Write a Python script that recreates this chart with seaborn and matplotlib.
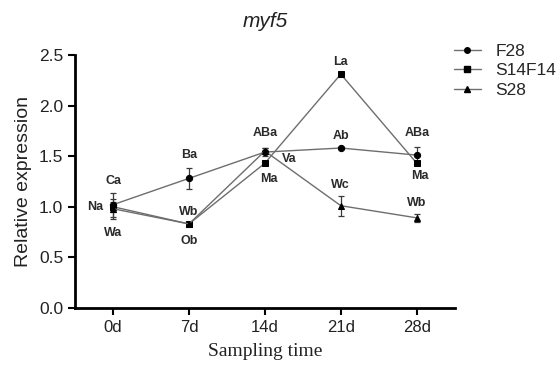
import numpy as np
import pandas as pd
import matplotlib
matplotlib.use("Agg")
import matplotlib.pyplot as plt
from matplotlib.lines import Line2D
import seaborn as sns

# ---- data ----
days = ["0d", "7d", "14d", "21d", "28d"]
series_names = ["F28", "S14F14", "S28"]
f28 = [1.02, 1.28, 1.54, 1.58, 1.51]
f28_err = [0.12, 0.10, 0.04, 0.01, 0.08]
s14f14 = [1.00, 0.83, 1.43, 2.31, 1.43]
s14f14_err = [0.05, 0.01, 0.01, 0.01, 0.01]
s28 = [0.98, 0.83, 1.55, 1.01, 0.89]
s28_err = [0.10, 0.01, 0.03, 0.10, 0.04]

labels_text = ["Ca", "Na", "Wa", "Ba", "Wb", "Ob", "ABa", "Ma", "Va",
               "Ab", "La", "Wc", "ABa", "Ma", "Wb"]
labels_x = [0, -0.24, 0, 1, 1, 1, 2, 2.05, 2.32, 3, 3, 3, 4, 4.04, 4]
labels_y = [1.25, 1.00, 0.74, 1.51, 0.95, 0.66, 1.73, 1.27, 1.47,
            1.70, 2.43, 1.21, 1.73, 1.30, 1.04]

values = [f28, s14f14, s28]
errors = [f28_err, s14f14_err, s28_err]
markers = {"F28": "o", "S14F14": "s", "S28": "^"}

rows = []
for name, vals in zip(series_names, values):
    for i, v in enumerate(vals):
        rows.append({"pos": i, "day": days[i], "series": name, "value": v})
df = pd.DataFrame(rows)

# ---- style ----
sns.set_theme(style="ticks")
plt.rcParams["font.family"] = ["Liberation Sans", "DejaVu Sans"]

fig = plt.figure(figsize=(5.6, 3.71), dpi=100)
ax = fig.add_axes([0.134, 0.170, 0.678, 0.682])

line_color = "#6e6e6e"
for name, vals, errs in zip(series_names, values, errors):
    ax.errorbar(range(len(days)), vals, yerr=errs, fmt="none",
                ecolor="#3a3a3a", elinewidth=0.9, capsize=2.5, capthick=0.9,
                zorder=2)

sns.lineplot(data=df, x="pos", y="value", hue="series", style="series",
             markers=markers, dashes=False, palette=[line_color] * 3,
             markersize=4.5, linewidth=1.0, markerfacecolor="black",
             markeredgecolor="black", legend=False, ax=ax, zorder=3)

for t, x, y in zip(labels_text, labels_x, labels_y):
    ax.text(x, y, t, ha="center", va="center", fontsize=9,
            fontweight="bold", color="#2a2a2a")

ax.set_xlim(-0.5, 4.5)
ax.set_ylim(0, 2.5)
ax.set_xticks(range(len(days)))
ax.set_xticklabels(days)
ax.set_yticks([0.0, 0.5, 1.0, 1.5, 2.0, 2.5])
ax.set_yticklabels(["0.0", "0.5", "1.0", "1.5", "2.0", "2.5"])
ax.tick_params(axis="both", labelsize=12, width=1.5, length=5,
               color="black", labelcolor="#222222", direction="out")
ax.tick_params(axis="y", labelsize=12.5)
for s in ["left", "bottom"]:
    ax.spines[s].set_linewidth(2.0)
    ax.spines[s].set_color("black")
sns.despine(ax=ax)

ax.set_ylabel("Relative expression", fontsize=14, color="#222222", labelpad=5)
ax.set_xlabel("Sampling time", fontsize=14, color="#222222",
              family=["Liberation Serif", "DejaVu Serif"], labelpad=6)
ax.set_title("myf5", fontsize=15, style="italic", color="#222222", pad=20)

handles = [Line2D([0], [0], color=line_color, lw=1.0, marker=markers[n],
                  markersize=4, markerfacecolor="black",
                  markeredgecolor="black") for n in series_names]
fig.legend(handles, series_names, loc="upper left",
           bbox_to_anchor=(0.782, 0.925), frameon=False, fontsize=12.5,
           handlelength=1.6, handletextpad=0.8, labelspacing=0.25)

fig.savefig("out.png", dpi=100)
